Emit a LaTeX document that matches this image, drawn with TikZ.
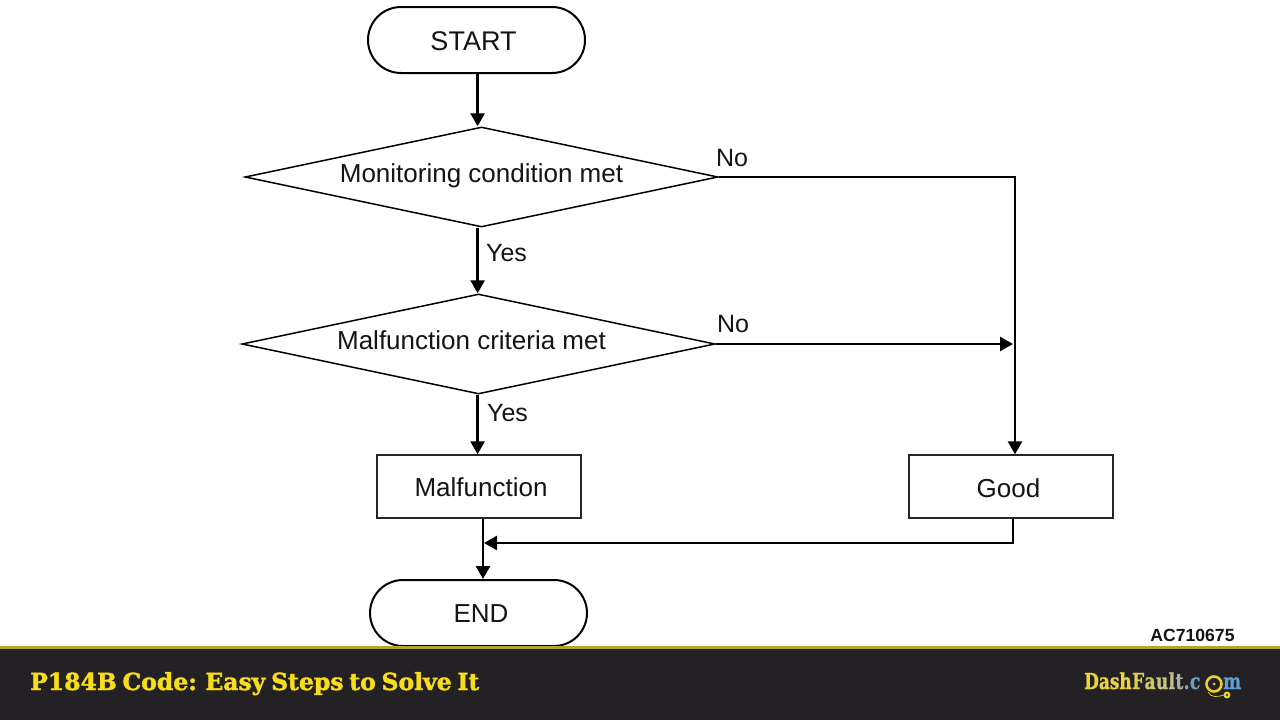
\documentclass[tikz,border=0pt]{standalone}
\usepackage{fontspec}
\setmainfont{Liberation Sans}
\newfontfamily\titlefont[BoldFeatures={FakeBold=1.8},WordSpace=0.7]{DejaVu Serif}
\newfontfamily\logofont[BoldFeatures={FakeBold=1.0,FakeStretch=0.77}]{DejaVu Serif}
\usetikzlibrary{arrows.meta,shapes.geometric,shapes.misc,calc}
\definecolor{barbg}{HTML}{232124}
\definecolor{barline}{HTML}{B8A526}
\definecolor{titlegold}{HTML}{F7DC1A}
\definecolor{ringgold}{HTML}{EBD02A}
\definecolor{lgA}{HTML}{E8D440}
\definecolor{lgB}{HTML}{DCCD55}
\definecolor{lgC}{HTML}{CFC86A}
\definecolor{lgD}{HTML}{C8C480}
\definecolor{lgE}{HTML}{BDBB90}
\definecolor{lgF}{HTML}{A8B09A}
\definecolor{lgG}{HTML}{8AA6B0}
\definecolor{lgH}{HTML}{6F9FC0}
\definecolor{lgI}{HTML}{5F9FD8}
\tikzset{
  x=1pt,y=-1pt,
  every node/.style={font=\fontsize{26}{30}\selectfont,text=black!92},
  terminal/.style={draw=black,line width=2pt,rounded rectangle,minimum width=217pt,minimum height=66pt,inner sep=0pt},
  decision/.style={draw=black,line width=1.5pt,diamond,aspect=4.73,minimum width=473pt,minimum height=100pt,inner sep=0pt},
  process/.style={draw=black!85,line width=1.4pt,rectangle,minimum width=204pt,minimum height=63pt,inner sep=0pt},
  flowline/.style={draw=black,line width=2.7pt},
  flowarrow/.style={flowline,-{Triangle[length=13pt,width=14pt]}},
  caption/.style={font=\fontsize{25}{28}\selectfont,inner sep=0pt},
  logo/.style={font=\logofont\bfseries\fontsize{22}{24}\selectfont,inner sep=0pt,anchor=base west}
}
\begin{document}
\begin{tikzpicture}
\useasboundingbox (0,0) rectangle (1280,720);
\fill[white] (0,0) rectangle (1280,720);

% flowchart shapes
\node[terminal] (start) at (476.5,40) {};
\node[decision] (d1) at (481.5,177) {};
\node[decision] (d2) at (478.5,344) {};
\node[process] (malf) at (479,486.5) {};
\node[process] (good) at (1011,486.5) {};
\node[terminal] (end) at (478.5,613) {};

% shape texts
\node[inner sep=0pt,font=\fontsize{27}{30}\selectfont] (tstart) at (473.5,41) {START};
\node[inner sep=0pt] (t1) at (481.5,175.5) {Monitoring condition met};
\node[inner sep=0pt] (t2) at (471.5,340) {Malfunction criteria met};
\node[inner sep=0pt] (tmalf) at (481,487) {Malfunction};
\node[inner sep=0pt] (tgood) at (1008.5,488) {Good};
\node[inner sep=0pt] (tend) at (481,614) {END};

% vertical runs of the connectors
\coordinate (colA) at (477.6,0);
\coordinate (colB) at (483,0);
\coordinate (colC) at (1015,0);
\coordinate (colD) at (1013,0);
\coordinate (joinIn) at (1013,344);
\coordinate (mergeIn) at (484,543);
\coordinate (turnGood) at (1013,543);

\draw[flowarrow] (colA |- start.south) -- (colA |- d1.north);
\draw[flowarrow] (colA |- d1.south) -- (colA |- d2.north);
\draw[flowarrow] (colA |- d2.south) -- (colA |- malf.north);
\draw[flowarrow] (colB |- malf.south) -- (colB |- end.north);
\draw[flowarrow] (d1.east) -- (colC |- d1.east) -- (colC |- good.north);
\draw[flowarrow] (d2.east) -- (joinIn);
\draw[flowarrow] (colD |- good.south) -- (turnGood) -- (mergeIn);

% branch labels
\node[caption] (no1) at (732,158) {No};
\node[caption] (no2) at (733,324) {No};
\node[caption] (yes1) at (506.5,253) {Yes};
\node[caption] (yes2) at (507.5,413) {Yes};

\node[inner sep=0pt,font=\bfseries\fontsize{17.6}{20}\selectfont] (code) at (1192.5,635) {AC710675};

% footer band
\fill[barbg] (0,648) rectangle (1280,720);
\fill[barline] (0,646) rectangle (1280,649);
\node[anchor=base west,inner sep=0pt,text=titlegold,font=\titlefont\bfseries\fontsize{23.5}{28}\selectfont] (title) at (30,690) {P184B Code: Easy Steps to Solve It};

% site logo, one shade per letter
\node[logo,text=lgA] (l1) at (1084,689) {Dash};
\node[logo,text=lgB] (l2) at (l1.base east) {F};
\node[logo,text=lgC] (l3) at (l2.base east) {a};
\node[logo,text=lgD] (l4) at (l3.base east) {u};
\node[logo,text=lgE] (l5) at (l4.base east) {l};
\node[logo,text=lgF] (l6) at (l5.base east) {t};
\node[logo,text=lgG] (l7) at (l6.base east) {.};
\node[logo,text=lgH] (l8) at (l7.base east) {c};
\draw[ringgold,line width=2.6pt] (1214,684) circle (7.5pt);
\fill[ringgold] (1214,684) circle (1.5pt);
\node[logo,text=lgI] (l9) at (1223,689) {m};
\draw[ringgold,line width=.7pt] (1208,692) .. controls (1211,698) and (1218,697) .. (1224,695);
\fill[ringgold] (1227,695) circle (3.5pt);
\fill[barbg] (1227,695) circle (1.2pt);
\end{tikzpicture}
\end{document}
